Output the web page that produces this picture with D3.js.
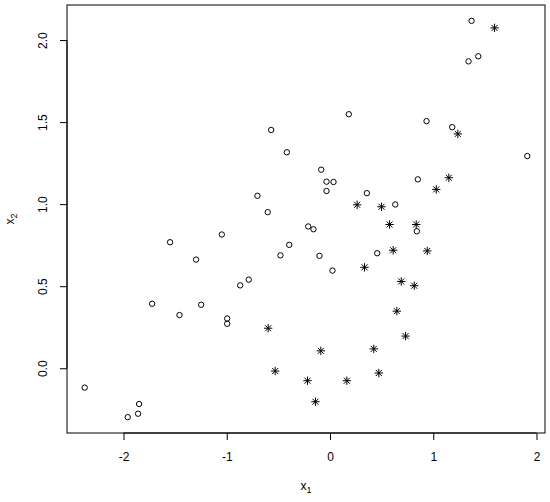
<!DOCTYPE html>
<html>
<head>
    <meta charset="UTF-8">
    <title>Scatter x1 vs x2</title>
    <script src="https://d3js.org/d3.v7.min.js"></script>
    <style>
        body { margin: 0; background: #fff; }
        text { font-family: "Liberation Sans", Arial, sans-serif; fill: #000; }
    </style>
</head>
<body>
    <svg id="chart" width="550" height="502"></svg>
    <script>
        // group 1 (open circles)
        const circleX = [-1.048, -1.549, -1.297, -1.723, -1.458, -1.248, -0.996, -0.996, -2.376, -1.849,
                         -1.859, -1.959, 0.182, -0.570, -0.418, -0.085, -0.034, 0.034, -0.034, 0.357,
                         -0.703, -0.603, -0.211, -0.160, -0.395, -0.480, -0.102, 0.024, 0.457, -0.787,
                         -0.870, 0.632, 0.935, 1.184, 1.911, 0.851, 0.841, 1.371, 1.436, 1.342];
        const circleY = [0.815, 0.768, 0.662, 0.393, 0.324, 0.387, 0.303, 0.271, -0.118, -0.218,
                         -0.277, -0.298, 1.548, 1.452, 1.316, 1.210, 1.137, 1.135, 1.080, 1.067,
                         1.051, 0.951, 0.864, 0.847, 0.752, 0.688, 0.685, 0.595, 0.701, 0.540,
                         0.505, 0.998, 1.506, 1.469, 1.293, 1.151, 0.835, 2.117, 1.901, 1.870];

        // group 2 (asterisks)
        const starX = [1.594, 1.238, 1.151, 1.029, 0.499, 0.577, 0.835, 0.612, 0.942, 0.690,
                       0.816, 0.647, 0.732, 0.263, 0.334, -0.599, -0.089, 0.424, -0.531, -0.218,
                       0.163, 0.473, -0.141];
        const starY = [2.074, 1.428, 1.161, 1.090, 0.984, 0.876, 0.876, 0.719, 0.715, 0.529,
                       0.503, 0.348, 0.196, 0.996, 0.615, 0.244, 0.106, 0.118, -0.017, -0.076,
                       -0.076, -0.029, -0.204];

        const xTicks = [-2, -1, 0, 1, 2];
        const yTicks = [0, 0.5, 1, 1.5, 2];

        const svg = d3.select('#chart');
        const mLeft = 67, mRight = 545, mTop = 5, mBottom = 433;

        // R style 4% padding around the data range
        function padded(vals) {
            const [lo, hi] = d3.extent(vals);
            const d = (hi - lo) * 0.04;
            return [lo - d, hi + d];
        }
        const x = d3.scaleLinear().domain(padded(circleX.concat(starX))).range([mLeft, mRight]);
        const y = d3.scaleLinear().domain(padded(circleY.concat(starY))).range([mBottom, mTop]);

        // box
        svg.append('rect')
            .attr('x', mLeft).attr('y', mTop)
            .attr('width', mRight - mLeft).attr('height', mBottom - mTop)
            .attr('fill', 'none').attr('stroke', '#000').attr('stroke-width', 1);

        // plain hyphen for negatives, like R
        const fmtX = d => String(d);
        const fmtY = d => d.toFixed(1);

        // x axis
        const xAxis = svg.append('g').attr('transform', `translate(0,${mBottom})`)
            .call(d3.axisBottom(x).tickValues(xTicks).tickSize(7).tickPadding(12)
                .tickFormat(fmtX).tickSizeOuter(0));
        xAxis.select('.domain').attr('d', `M${x(xTicks[0])},0H${x(xTicks[xTicks.length - 1])}`);
        xAxis.selectAll('text').style('font-size', '12px').style('font-family', '"Liberation Sans", Arial, sans-serif');

        // y axis, labels rotated like R
        const yAxis = svg.append('g').attr('transform', `translate(${mLeft},0)`)
            .call(d3.axisLeft(y).tickValues(yTicks).tickSize(7).tickFormat(fmtY).tickSizeOuter(0));
        yAxis.select('.domain').attr('d', `M0,${y(yTicks[0])}V${y(yTicks[yTicks.length - 1])}`);
        yAxis.selectAll('.tick text')
            .attr('x', null).attr('dy', null)
            .attr('transform', 'translate(-20,0) rotate(-90)')
            .attr('text-anchor', 'middle')
            .style('font-size', '12px').style('font-family', '"Liberation Sans", Arial, sans-serif');

        // axis titles with subscripts
        const xt = svg.append('text').attr('x', (mLeft + mRight) / 2).attr('y', 490)
            .attr('text-anchor', 'middle').style('font-size', '12px');
        xt.append('tspan').text('x');
        xt.append('tspan').attr('dy', 3).style('font-size', '9px').text('1');

        const yt = svg.append('text').attr('transform', `translate(14,${(mTop + mBottom) / 2}) rotate(-90)`)
            .attr('text-anchor', 'middle').style('font-size', '12px');
        yt.append('tspan').text('x');
        yt.append('tspan').attr('dy', 3).style('font-size', '9px').text('2');

        // circles
        svg.append('g').selectAll('circle')
            .data(d3.zip(circleX, circleY))
            .join('circle')
            .attr('cx', d => x(d[0])).attr('cy', d => y(d[1]))
            .attr('r', 2.7)
            .attr('fill', 'none').attr('stroke', '#000').attr('stroke-width', 1);

        // asterisks: plus + cross
        const a = 4.2, b = 3;
        svg.append('g').selectAll('path')
            .data(d3.zip(starX, starY))
            .join('path')
            .attr('transform', d => `translate(${x(d[0])},${y(d[1])})`)
            .attr('d', `M${-a},0H${a}M0,${-a}V${a}M${-b},${-b}L${b},${b}M${-b},${b}L${b},${-b}`)
            .attr('fill', 'none').attr('stroke', '#000').attr('stroke-width', 1);
    </script>
</body>
</html>
